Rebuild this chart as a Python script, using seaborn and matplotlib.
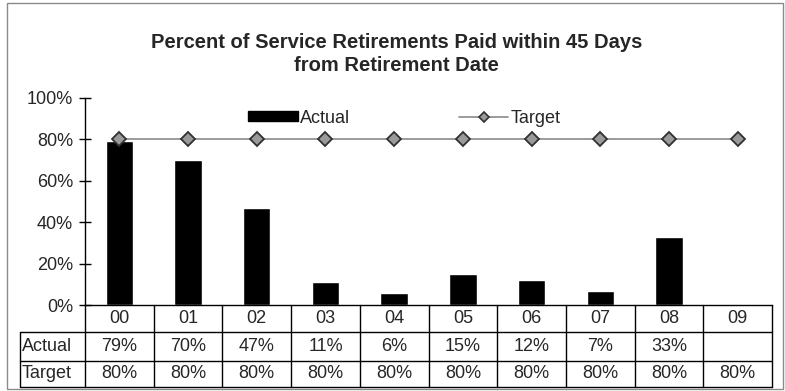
import numpy as np
import pandas as pd
import matplotlib
matplotlib.use("Agg")
import matplotlib.pyplot as plt
import matplotlib.transforms as mtransforms
from matplotlib.patches import Patch, Rectangle
from matplotlib.lines import Line2D
import seaborn as sns

# ---- data ----
years = ["00", "01", "02", "03", "04", "05", "06", "07", "08", "09"]
actual = [79, 70, 47, 11, 6, 15, 12, 7, 33, np.nan]
target = [80, 80, 80, 80, 80, 80, 80, 80, 80, 80]
yticks = [0, 20, 40, 60, 80, 100]
row_labels = ["Actual", "Target"]
title = "Percent of Service Retirements Paid within 45 Days\nfrom Retirement Date"

sns.set_theme(style="white")
plt.rcParams["font.family"] = ["Liberation Sans", "DejaVu Sans"]

FS = 13
W, H = 785, 391
fig = plt.figure(figsize=(W / 100, H / 100), dpi=100)
ax_left, ax_right = 85 / W, 772 / W
ax_bottom, ax_top = (H - 305) / H, (H - 98) / H
ax = fig.add_axes([ax_left, ax_bottom, ax_right - ax_left, ax_top - ax_bottom])

df = pd.DataFrame({"year": years, "actual": actual, "target": target})
sns.barplot(data=df, x="year", y="actual", color="black", width=0.4,
            saturation=1, ax=ax, zorder=2)
xpos = np.arange(len(years))
ax.plot(xpos, df["target"], color="#8a8a8a", lw=1.2, marker="D",
        markersize=7, markerfacecolor="#9a9a9a", markeredgecolor="#303030",
        markeredgewidth=1.3, zorder=3)

ax.set_xlim(-0.5, len(years) - 0.5)
ax.set_ylim(0, 100)
ax.set_yticks(yticks)
ax.set_yticklabels([f"{v}%" for v in yticks], fontsize=FS)
ax.set_xticks([])
ax.set_xlabel("")
ax.set_ylabel("")
for s in ["top", "right"]:
    ax.spines[s].set_visible(False)
for s in ["left", "bottom"]:
    ax.spines[s].set_color("black")
    ax.spines[s].set_linewidth(1)
ax.tick_params(axis="y", direction="inout", length=9, width=1, color="black",
               pad=4, left=True)

# ---- legend ----
handles = [Patch(facecolor="black", edgecolor="black"),
           Line2D([], [], color="#8a8a8a", lw=1.2, marker="D", markersize=5.5,
                  markerfacecolor="#9a9a9a", markeredgecolor="#303030",
                  markeredgewidth=1.2)]
ax.legend(handles, ["Actual", "Target"], loc="center",
          bbox_to_anchor=(0.465, 0.903), ncol=2, frameon=False,
          fontsize=FS, handlelength=2.75, handleheight=0.5,
          columnspacing=6.0, handletextpad=0.15)

# ---- title ----
fig.text(0.505, (H - 54) / H, title, ha="center", va="center",
         fontsize=14.5, fontweight="bold", linespacing=1.3)

# ---- data table ----
trans = mtransforms.blended_transform_factory(ax.transData, ax.transAxes)
px_per_unit = (772 - 85) / len(years)
x_label_left = -0.5 - (85 - 20) / px_per_unit
y_hdr = -(332 - 305) / 207
y_act = -(361 - 305) / 207
y_tgt = -(387 - 305) / 207
lkw = dict(color="black", lw=1, transform=trans, clip_on=False)
n = len(years)
for yl in [y_hdr, y_act, y_tgt]:
    ax.add_line(Line2D([x_label_left, n - 0.5], [yl, yl], **lkw))
for k in range(n + 1):
    ax.add_line(Line2D([k - 0.5, k - 0.5], [0, y_tgt], **lkw))
ax.add_line(Line2D([x_label_left, x_label_left], [y_hdr, y_tgt], **lkw))

tkw = dict(transform=trans, clip_on=False, fontsize=FS, va="center")
for i, yr in enumerate(years):
    ax.text(i, y_hdr / 2, yr, ha="center", **tkw)
rows = [actual, target]
mids = [(y_hdr + y_act) / 2, (y_act + y_tgt) / 2]
for lab, vals, ym in zip(row_labels, rows, mids):
    ax.text(x_label_left + 0.03, ym, lab, ha="left", **tkw)
    for i, v in enumerate(vals):
        if not np.isnan(v):
            ax.text(i, ym, f"{int(v)}%", ha="center", **tkw)

# ---- outer frame ----
fig.patches.append(Rectangle((7 / W, 2 / H), (W - 9) / W, (H - 5) / H,
                             transform=fig.transFigure, fill=False,
                             edgecolor="#8a8a8a", lw=1))

fig.savefig("out.png", dpi=100)
